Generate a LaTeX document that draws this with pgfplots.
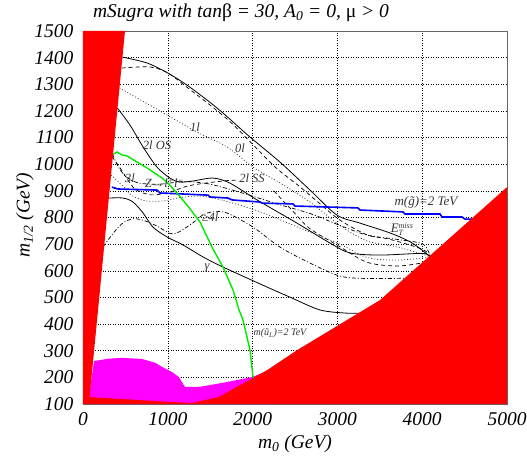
\documentclass[border=0pt]{standalone}
\usepackage{fontspec}
\setmainfont{Liberation Serif}
\usepackage{pgfplots}
\pgfplotsset{compat=1.18}
\definecolor{exred}{RGB}{255,0,0}
\definecolor{exmag}{RGB}{255,0,255}
\definecolor{sqgreen}{RGB}{0,235,0}
\definecolor{glblue}{RGB}{0,0,255}
\newcommand{\tl}[1]{\textit{#1}}
\tikzset{
  lbl/.style={font=\fontsize{12.5}{12.5}\selectfont\itshape, text=black!80, inner sep=0pt},
  cdash/.style={black, line width=0.7pt, dash pattern=on 4pt off 3pt},
  cdot/.style={black!80, line width=0.7pt, dash pattern=on 1pt off 2pt},
  cdashdot/.style={black, line width=0.7pt, dash pattern=on 4pt off 2pt on 1pt off 2pt},
  csolid/.style={black, line width=0.8pt},
}
\begin{document}
\begin{tikzpicture}
\begin{axis}[
  scale only axis, width=424pt, height=373pt,
  xmin=0, xmax=5000, ymin=100, ymax=1500,
  xtick={0,1000,2000,3000,4000,5000},
  xticklabels={\tl{0},\tl{1000},\tl{2000},\tl{3000},\tl{4000},\tl{5000}},
  ytick={100,200,300,400,500,600,700,800,900,1000,1100,1200,1300,1400,1500},
  yticklabels={\tl{100},\tl{200},\tl{300},\tl{400},\tl{500},\tl{600},\tl{700},\tl{800},
    \tl{900},\tl{1000},\tl{1100},\tl{1200},\tl{1300},\tl{1400},\tl{1500}},
  grid=major, grid style={black, line width=0.5pt, dash pattern=on 1pt off 1.5pt},
  major tick length=0pt,
  axis line style={black!60, line width=0.8pt},
  xticklabel style={font=\fontsize{19.5}{19.5}\selectfont\itshape, yshift=-5pt},
  yticklabel style={font=\fontsize{19.5}{19.5}\selectfont\itshape, xshift=-6pt},
]
% excluded region (magenta) along the bottom
\addplot[draw=none, fill=exmag] coordinates {
  (70,100) (70,126) (130,261) (300,270) (460,273) (696,269) (850,255) (932,239)
  (1050,220) (1132,201) (1180,175) (1203,164) (1368,164) (1639,179)
  (1993,201) (2146,220) (2200,227) (2200,100)} -- cycle;

% reach contours
\addplot[csolid, smooth, tension=0.5] coordinates {
  (465,1402) (755,1380) (1002,1342) (1226,1297) (1462,1241) (1651,1192)
  (1969,1102) (2323,1008) (2677,903) (2995,809) (3266,779) (3620,742)
  (3850,710) (4009,675) (4100,650)};
\addplot[cdash, smooth, tension=0.5] coordinates {
  (455,1361) (790,1365) (1002,1342) (1262,1280) (1498,1222) (1733,1160)
  (1969,1085) (2264,990) (2559,915) (2800,850) (3031,790) (3349,735)
  (3620,718) (4009,680) (4100,650)};
\addplot[cdot, smooth, tension=0.5] coordinates {
  (430,1286) (908,1200) (1344,1121) (1698,1065) (2005,989) (2323,930)
  (2677,858) (3031,770) (3349,712) (3700,690) (4009,662) (4100,650)};
\addplot[cdashdot, smooth, tension=0.5] coordinates {
  (310,1070) (400,1000) (500,955) (650,930) (900,925) (1200,935)
  (1500,925) (1900,890) (2300,850) (2677,815) (3031,770) (3349,734)
  (3700,718) (4009,700) (4100,650)};
\addplot[csolid, smooth, tension=0.5] coordinates {
  (405,1211) (554,1147) (708,1065) (873,989) (1026,948) (1144,933)
  (1297,937) (1533,948) (1733,929) (2052,866) (2523,779) (2913,704)
  (3148,667) (3502,659) (4009,665) (4100,650)};
\addplot[cdash, smooth, tension=0.5] coordinates {
  (340,1030) (440,985) (520,945) (620,905) (800,885) (1000,893)
  (1260,920) (1650,937) (1800,940)};
\addplot[cdash, smooth, tension=0.5] coordinates {
  (2250,900) (2500,815) (2677,758) (3031,690) (3349,632) (3700,618)
  (4009,630) (4100,640)};
\addplot[cdot, smooth, tension=0.5] coordinates {
  (330,960) (480,915) (590,880) (750,862) (950,862) (1150,875) (1400,880)
  (1700,860) (2100,820) (2677,745) (3031,700) (3349,650) (3700,640)
  (4009,648) (4100,650)};
\addplot[cdashdot, smooth, tension=0.5] coordinates {
  (236,690) (354,740) (472,780) (590,795) (708,790) (873,768) (1061,738)
  (1262,772) (1415,810) (1533,821) (1698,817) (2005,764) (2323,689)
  (2677,629) (3031,580) (3349,571) (3800,572)};
\addplot[csolid, smooth, tension=0.5] coordinates {
  (300,873) (472,873) (590,858) (708,817) (825,764) (991,727) (1179,697)
  (1415,652) (1651,614) (2170,539) (2441,501) (2795,453) (3113,441)
  (3330,441)};

% gluino and squark mass contours
\addplot[glblue, line width=1.6pt] coordinates {
  (340,914) (413,907) (873,903) (908,892) (1474,884) (1498,877) (1710,873)
  (1757,866) (2087,858) (2111,854) (2476,851) (2500,843) (3243,836)
  (3267,828) (3774,821) (3797,813) (4210,813) (4233,802) (4469,802)
  (4505,794) (4600,794)};
\addplot[sqgreen, line width=1.4pt] coordinates {
  (345,1035) (401,1046) (460,1035) (519,1031) (755,986) (932,948)
  (1002,929) (1108,892) (1226,847) (1380,783) (1521,689) (1651,614)
  (1769,528) (1840,453) (1887,415) (1969,303) (2005,201) (2012,185)};

% theoretically excluded regions (red)
\addplot[draw=none, fill=exred] coordinates {
  (0,100) (0,1500) (495,1500) (70,100)} -- cycle;
\addplot[draw=none, fill=exred] coordinates {
  (40,100) (70,126) (500,118) (1000,108) (1285,104) (1600,126) (2170,227)
  (2524,302) (3502,490) (5000,914) (5000,100)} -- cycle;

% curve labels
\node[lbl] at (axis cs:1320,1140) {1l};
\node[lbl] at (axis cs:1851,1061) {0l};
\node[lbl] at (axis cs:873,1072) {2l OS};
\node[lbl] at (axis cs:1993,948) {2l SS};
\node[lbl] at (axis cs:554,948) {3l};
\node[lbl] at (axis cs:960,929) {Z→l\textsuperscript{+}l\textsuperscript{−}};
\node[lbl] at (axis cs:1498,802) {≥4l};
\node[lbl] at (axis cs:1462,610) {γ};
\node[lbl, font=\fontsize{13}{13}\selectfont\itshape] at (axis cs:3760,756)
  {E\rlap{\raisebox{-0.45ex}{\fontsize{8}{8}\selectfont T}}\raisebox{0.8ex}{\fontsize{8}{8}\selectfont miss}};
\node[lbl, font=\fontsize{13}{13}\selectfont\itshape] at (axis cs:4045,856)
  {m(g̃)=2 TeV};
\node[lbl, font=\fontsize{10}{10}\selectfont\itshape] at (axis cs:2323,366)
  {m(ũ\textsubscript{L})=2 TeV};
\end{axis}
% title and axis labels
\node[font=\fontsize{19.5}{19.5}\selectfont\itshape, inner sep=0pt] at (158pt,391pt)
  {mSugra with tan{\upshape β} = 30, A\textsubscript{0} = 0, {\upshape μ} \textgreater{} 0};
\node[font=\fontsize{19.5}{19.5}\selectfont\itshape, inner sep=0pt] at (212pt,-40pt)
  {m\textsubscript{0} (GeV)};
\node[font=\fontsize{19.5}{19.5}\selectfont\itshape, inner sep=0pt, rotate=90] at (-58pt,189pt)
  {m\textsubscript{1/2} (GeV)};
\pgfresetboundingbox
\path[use as bounding box] (-83pt,-60pt) rectangle (444pt,404pt);
\end{tikzpicture}
\end{document}
